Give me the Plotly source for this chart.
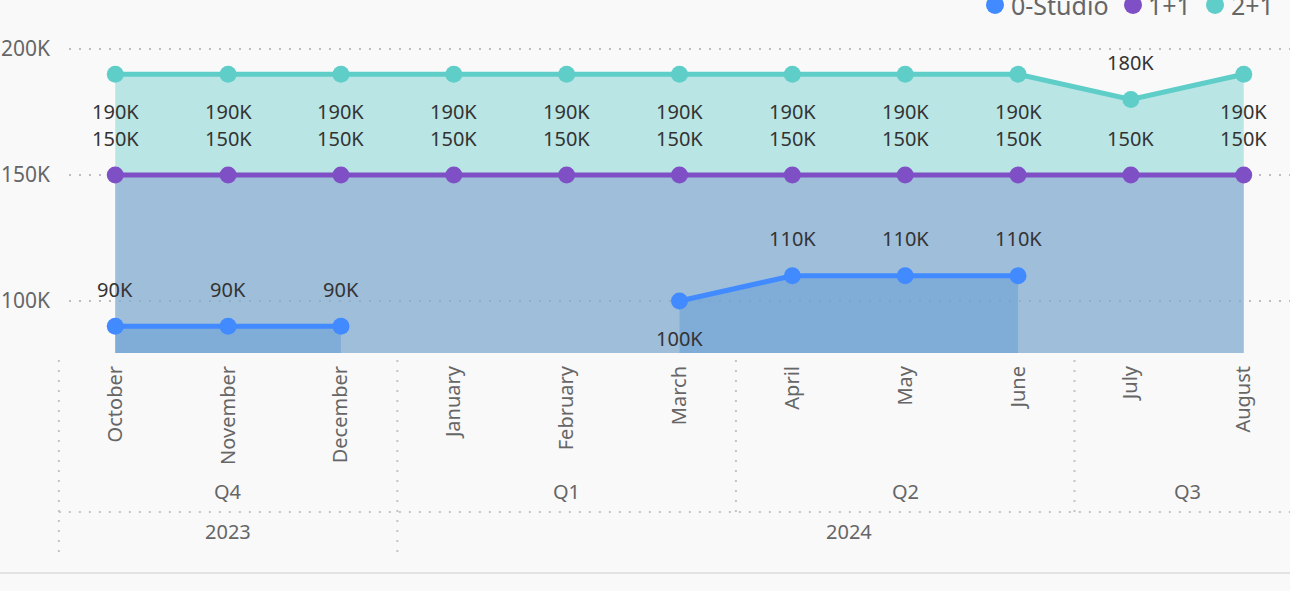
import plotly.graph_objects as go

# ---------------- data ----------------
months = ["October", "November", "December", "January", "February", "March",
          "April", "May", "June", "July", "August"]
quarters = ["Q4", "Q4", "Q4", "Q1", "Q1", "Q1", "Q2", "Q2", "Q2", "Q3", "Q3"]
years = ["2023", "2023", "2023", "2024", "2024", "2024", "2024", "2024", "2024", "2024", "2024"]

studio = [90000, 90000, 90000, None, None, 100000, 110000, 110000, 110000, None, None]
one_one = [150000, 150000, 150000, 150000, 150000, 150000, 150000, 150000, 150000, 150000, 150000]
two_one = [190000, 190000, 190000, 190000, 190000, 190000, 190000, 190000, 190000, 180000, 190000]

y_ticks = [100000, 150000, 200000]

# ---------------- style ----------------
series = [
    # name, values, line colour, fill colour, label side per point
    ("2+1", two_one, "#5FCDC8", "rgba(121,211,206,0.5)",
     ["below"] * 9 + ["above", "below"]),
    ("1+1", one_one, "#7F4FC5", "rgba(133,150,208,0.5)",
     ["above"] * 11),
    ("0-Studio", studio, "#418AFF", "rgba(97,156,214,0.5)",
     ["above", "above", "above", None, None, "below", "above", "above", "above", None, None]),
]
# legend: name, circle centre (px), text start (px)
legend_items = [("0-Studio", 995, 1009), ("1+1", 1133, 1146), ("2+1", 1215, 1229)]

FONT = "Segoe UI, Noto Sans, sans-serif"
GRAY = "#666666"
DARK = "#333333"
BG = "#F9F9FA"
SEP = "#C4C4C4"

W, H = 1290, 591
ML, MR, MT, MB = 69, 0, 20, 238
XMIN, XMAX = -0.41, 10.41
YMIN, YMAX = 79370, 211510
plot_h = H - MT - MB
plot_w = W - ML - MR


def py(pix):
    """pixel row -> paper y"""
    return (H - MB - pix) / plot_h


def pxp(pix):
    """pixel column -> paper x"""
    return (pix - ML) / plot_w


def px(xd):
    """data x -> paper x"""
    return (xd - XMIN) / (XMAX - XMIN)


def fmt(v):
    return f"{v / 1000:.0f}K"


def segments(vals):
    segs, cur = [], []
    for i, v in enumerate(vals):
        if v is None:
            if cur:
                segs.append(cur)
            cur = []
        else:
            cur.append(i)
    if cur:
        segs.append(cur)
    return segs


fig = go.Figure()
annotations = []

for name, vals, lc, fc, sides in series:
    for seg in segments(vals):
        fig.add_trace(go.Scatter(
            x=seg, y=[vals[i] for i in seg], mode="lines+markers", name=name,
            legendgroup=name, line=dict(color=lc, width=5),
            marker=dict(color=lc, size=17),
            fill="tozeroy", fillcolor=fc, showlegend=False, hoverinfo="skip"))
    for i, (v, s) in enumerate(zip(vals, sides)):
        if v is None or s is None:
            continue
        annotations.append(dict(
            x=i, y=v, xref="x", yref="y", text=fmt(v), showarrow=False,
            yshift=37 if s == "above" else -37,
            font=dict(family=FONT, size=20, color=DARK)))

# ---------- legend (top right, partly cut like the reference) ----------
colors = {n: lc for n, _, lc, _, _ in series}
shapes = []
for n, cx, tx in legend_items:
    shapes.append(dict(type="circle", xref="paper", yref="paper",
                       x0=pxp(cx - 9), x1=pxp(cx + 9), y0=py(5 + 9), y1=py(5 - 9),
                       fillcolor=colors[n], line=dict(width=0)))
    annotations.append(dict(x=pxp(tx), y=py(5), xref="paper", yref="paper", text=n,
                            showarrow=False, xanchor="left", yanchor="middle",
                            font=dict(family=FONT, size=25, color=GRAY)))

# ---------- hierarchical x axis (quarters / years) ----------


def groups(labels):
    out = []
    start = 0
    for i in range(1, len(labels) + 1):
        if i == len(labels) or labels[i] != labels[start]:
            out.append((labels[start], start, i - 1))
            start = i
    return out


q_groups = groups([y + q for y, q in zip(years, quarters)])
y_groups = groups(years)

for key, a, b in q_groups:
    annotations.append(dict(x=(a + b) / 2, y=py(491), xref="x", yref="paper",
                            text=key[4:], showarrow=False, yanchor="middle",
                            font=dict(family=FONT, size=20, color=GRAY)))
for key, a, b in y_groups:
    annotations.append(dict(x=(a + b) / 2, y=py(531), xref="x", yref="paper",
                            text=key, showarrow=False, yanchor="middle",
                            font=dict(family=FONT, size=20, color=GRAY)))

dot = dict(color=SEP, width=2, dash="2px,8px")
year_starts = {a for _, a, _ in y_groups}
for _, a, b in q_groups:
    bottom = 552 if a in year_starts else 512
    shapes.append(dict(type="line", xref="paper", yref="paper",
                       x0=px(a - 0.5), x1=px(a - 0.5), y0=py(360), y1=py(bottom), line=dot))
shapes.append(dict(type="line", xref="paper", yref="paper",
                   x0=px(-0.5), x1=1, y0=py(512), y1=py(512), line=dot))
shapes.append(dict(type="line", xref="paper", yref="paper",
                   x0=pxp(0), x1=1, y0=py(573), y1=py(573),
                   line=dict(color="#E3E3E3", width=2)))

fig.update_layout(
    width=W, height=H,
    margin=dict(l=ML, r=MR, t=MT, b=MB, autoexpand=False),
    paper_bgcolor=BG, plot_bgcolor=BG,
    font=dict(family=FONT, color=GRAY),
    showlegend=False,
    xaxis=dict(range=[XMIN, XMAX], tickmode="array", tickvals=list(range(len(months))),
               ticktext=months, tickangle=-90, showgrid=False, zeroline=False,
               showline=False, ticks="", ticklabelstandoff=8, automargin=False,
               tickfont=dict(family=FONT, size=20, color=GRAY), fixedrange=True),
    yaxis=dict(range=[YMIN, YMAX], tickmode="array", tickvals=y_ticks,
               ticktext=[fmt(v) for v in y_ticks], showgrid=True,
               gridcolor="#BDBDBD", gridwidth=2, griddash="2px,8px",
               zeroline=False, showline=False, ticks="", ticklabelstandoff=18,
               automargin=False, tickfont=dict(family=FONT, size=21, color=GRAY),
               fixedrange=True),
    annotations=annotations, shapes=shapes,
)

fig.write_html("out.html", config={"displayModeBar": False},
               post_script="document.body.style.margin='0';document.body.style.overflow='hidden';")
